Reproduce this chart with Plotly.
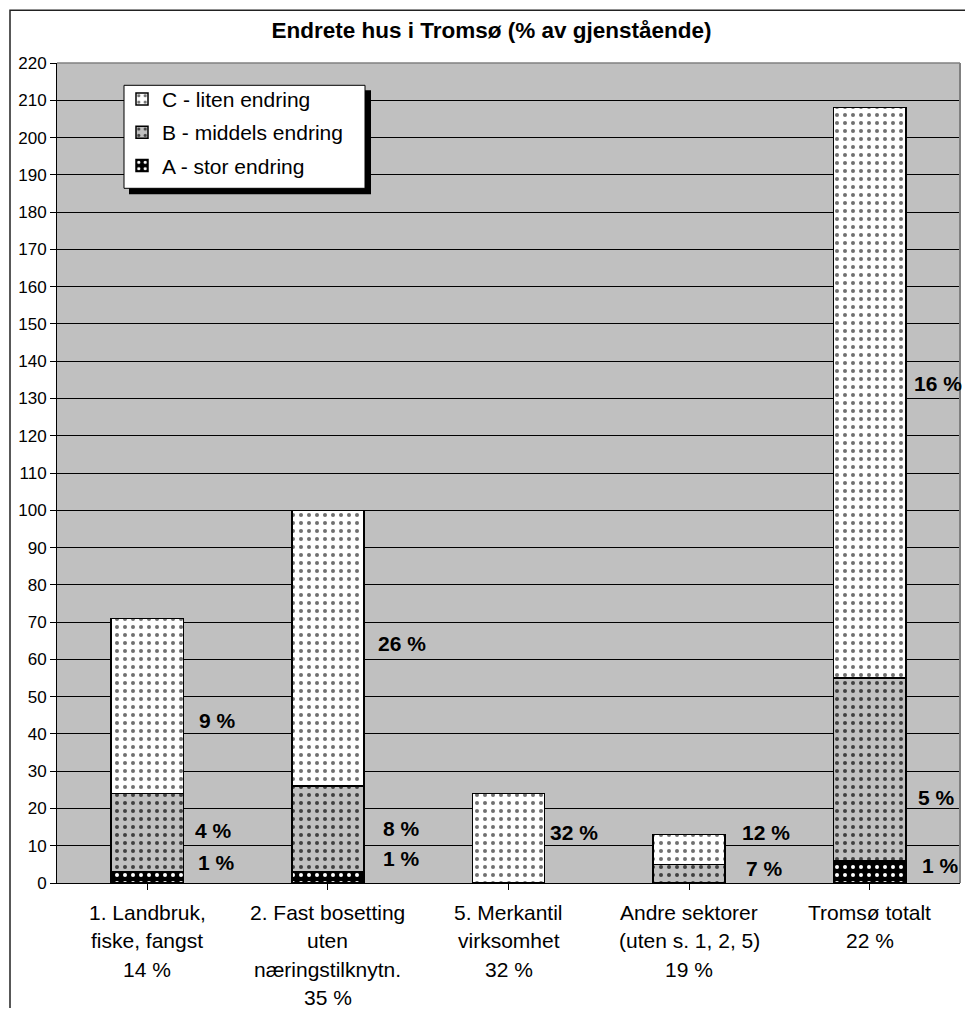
import plotly.graph_objects as go

# ---- data ----
categories = ["1. Landbruk, fiske, fangst", "2. Fast bosetting uten næringstilknytn.",
              "5. Merkantil virksomhet", "Andre sektorer (uten s. 1, 2, 5)", "Tromsø totalt"]
cat_label_lines = [
    ["1. Landbruk,", "fiske, fangst", "14 %"],
    ["2. Fast bosetting", "uten", "næringstilknytn.", "35 %"],
    ["5. Merkantil", "virksomhet", "32 %"],
    ["Andre sektorer", "(uten s. 1, 2, 5)", "19 %"],
    ["Tromsø totalt", "22 %"],
]
a_stor = [3, 3, 0, 0, 6]
b_middels = [21, 23, 0, 5, 49]
c_liten = [47, 74, 24, 8, 153]

# data labels: (category index, text)
label_texts = [
    (0, "9 %"), (0, "4 %"), (0, "1 %"),
    (1, "26 %"), (1, "8 %"), (1, "1 %"),
    (2, "32 %"),
    (3, "12 %"), (3, "7 %"),
    (4, "16 %"), (4, "5 %"), (4, "1 %"),
]
# placement of labels (y in axis units, x offset in px from bar edge)
label_y = [43.6, 14, 5.6, 64.3, 14.7, 6.6, 13.6, 13.6, 4, 134, 23, 4.8]
label_dx = [14, 10, 13, 12, 17, 17, 3, 15, 19, 6, 10, 14]

FONT = "Liberation Sans, Arial, sans-serif"
OFF = 8  # page body margin
W, H = 957, 1000
# plot area in screenshot pixels
PX0, PX1, PY0, PY1 = 57, 960, 62.7, 882.7
L = PX0 - OFF
T = PY0 - OFF
R = W - (PX1 - OFF)
B = H - (PY1 - OFF)
PW, PH = PX1 - PX0, PY1 - PY0

def sx(px):
    return (px - PX0) / PW

def sy(py):
    return (PY1 - py) / PH

fig = go.Figure()
series = [
    ("A - stor endring", a_stor, "#000000", "#FFFFFF", 3),
    ("B - middels endring", b_middels, "#C0C0C0", "#404040", 2),
    ("C - liten endring", c_liten, "#FFFFFF", "#707070", 1),
]
for name, vals, bg, fg, rank in series:
    fig.add_trace(go.Bar(
        x=list(range(len(categories))), y=vals,
        name=name, legendgroup=name, legendrank=rank,
        marker=dict(color=bg, line=dict(color="black", width=1.5),
                    pattern=dict(shape=".", fillmode="replace", bgcolor=bg,
                                 fgcolor=fg, size=8, solidity=0.2)),
        hoverinfo="skip",
    ))

annotations = []
for (ci, txt), yv, dx in zip(label_texts, label_y, label_dx):
    annotations.append(dict(x=ci + 0.2, y=yv, xref="x", yref="y", text=f"<b>{txt}</b>",
                            showarrow=False, xanchor="left", yanchor="middle", xshift=dx,
                            font=dict(family=FONT, size=21, color="black")))
for ci, lines in enumerate(cat_label_lines):
    for li, line in enumerate(lines):
        annotations.append(dict(x=ci, y=0, xref="x", yref="paper", text=line,
                                showarrow=False, xanchor="center", yanchor="middle",
                                yshift=-29.3 - 28.5 * li,
                                font=dict(family=FONT, size=21, color="black")))

shapes = [
    # outer chart border
    dict(type="rect", xref="paper", yref="paper",
         x0=sx(10), x1=sx(1000), y0=sy(1040), y1=sy(10),
         line=dict(color="#222222", width=1.5), layer="above"),
    # plot area top/right edges
    dict(type="line", xref="paper", yref="paper", x0=0, x1=1, y0=1, y1=1,
         line=dict(color="#808080", width=1.5), layer="above"),
    dict(type="line", xref="paper", yref="paper", x0=1, x1=1, y0=0, y1=1,
         line=dict(color="#808080", width=2), layer="above"),
    # legend shadow and box
    dict(type="rect", xref="paper", yref="paper",
         x0=sx(129), x1=sx(371), y0=sy(194), y1=sy(90),
         fillcolor="black", line=dict(width=0), layer="above"),
    dict(type="rect", xref="paper", yref="paper",
         x0=sx(124), x1=sx(365), y0=sy(188), y1=sy(85),
         fillcolor="white", line=dict(color="black", width=1), layer="above"),
]

fig.update_layout(
    width=W, height=H,
    margin=dict(l=L, r=R, t=T, b=B, autoexpand=False),
    barmode="stack", bargap=0.6,
    paper_bgcolor="white", plot_bgcolor="#C0C0C0",
    title=dict(text="<b>Endrete hus i Tromsø (% av gjenstående)</b>",
               x=(491.5 - OFF) / W, xanchor="center", y=1 - (30 - OFF) / H, yanchor="middle",
               font=dict(family=FONT, size=22.5, color="black")),
    font=dict(family=FONT, color="black"),
    legend=dict(x=sx(122), y=sy(78.5), xanchor="left", yanchor="top",
                bgcolor="rgba(0,0,0,0)", borderwidth=0,
                font=dict(family=FONT, size=21, color="black"),
                traceorder="grouped", tracegroupgap=3),
    xaxis=dict(range=[-0.5, 4.5], showticklabels=False, tickmode="array",
               tickvals=list(range(len(categories))), ticks="outside", tickson="boundaries",
               ticklen=6, tickcolor="black", showline=True, linecolor="black", linewidth=1,
               showgrid=False, zeroline=False, fixedrange=True),
    yaxis=dict(range=[0, 220], dtick=10, tick0=0, ticks="outside", ticklen=6,
               tickcolor="black", showline=True, linecolor="black", linewidth=1,
               showgrid=True, gridcolor="#000000", gridwidth=1, zeroline=False,
               tickfont=dict(family=FONT, size=17, color="black"), fixedrange=True),
    annotations=annotations,
    shapes=shapes,
)

fig.write_html("out.html")
